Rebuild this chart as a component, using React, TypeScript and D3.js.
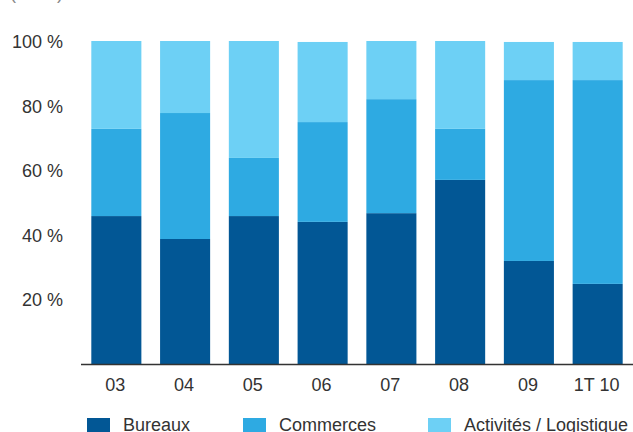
import React from "react";
import * as d3 from "d3";

const categories = ["03", "04", "05", "06", "07", "08", "09", "1T 10"];
const bureaux = [45.8, 38.7, 45.8, 44.0, 46.7, 57.0, 31.9, 24.8];
const commerces = [27.0, 39.0, 18.0, 30.9, 35.3, 15.8, 56.0, 63.1];
const activites = [27.2, 22.3, 36.2, 24.8, 18.0, 27.2, 11.8, 11.8];
const seriesNames = ["Bureaux", "Commerces", "Activités / Logistique"];
const yTicks = [20, 40, 60, 80, 100];

const colors = ["#025795", "#2eaae2", "#6dd0f5"];

const W = 633;
const H = 432;
const FONT = "'Liberation Sans', Arial, sans-serif";

export default function App() {
  const x = d3
    .scaleBand<string>()
    .domain(categories)
    .range([81, 633])
    .paddingInner(0.272)
    .paddingOuter(0.15);
  const y = d3.scaleLinear().domain([0, 100]).range([364, 41]);

  const rows = categories.map((c, i) => ({
    cat: c,
    s0: bureaux[i],
    s1: commerces[i],
    s2: activites[i],
  }));
  const stack = d3.stack<any>().keys(["s0", "s1", "s2"]);
  const layers = stack(rows);

  const legendX = [87, 243, 428];

  return (
    <svg
      width={W}
      height={H}
      style={{ position: "absolute", left: 0, top: 0, background: "#fff" }}
      fontFamily={FONT}
    >
      <text x={10} y={-1} fontSize={18} fill="#888">
        (en %)
      </text>
      {layers.map((layer, li) =>
        layer.map((d, i) => (
          <rect
            key={`${li}-${i}`}
            x={x(categories[i])}
            width={x.bandwidth()}
            y={y(d[1])}
            height={y(d[0]) - y(d[1])}
            fill={colors[li]}
          />
        ))
      )}
      <line x1={81} x2={633} y1={364.5} y2={364.5} stroke="#333" strokeWidth={1.5} />
      {yTicks.map((t) => (
        <text
          key={t}
          x={63}
          y={y(t) + 1}
          textAnchor="end"
          dominantBaseline="central"
          fontSize={18}
          fill="#333"
        >
          {`${t} %`}
        </text>
      ))}
      {categories.map((c) => (
        <text
          key={c}
          x={(x(c) as number) + x.bandwidth() / 2 - 1}
          y={385}
          textAnchor="middle"
          dominantBaseline="central"
          fontSize={18}
          fill="#333"
        >
          {c}
        </text>
      ))}
      {seriesNames.map((s, i) => (
        <g key={s}>
          <rect x={legendX[i]} y={418} width={23} height={14} fill={colors[i]} />
          <text x={legendX[i] + 36} y={431} fontSize={18} fill="#333">
            {s}
          </text>
        </g>
      ))}
    </svg>
  );
}
